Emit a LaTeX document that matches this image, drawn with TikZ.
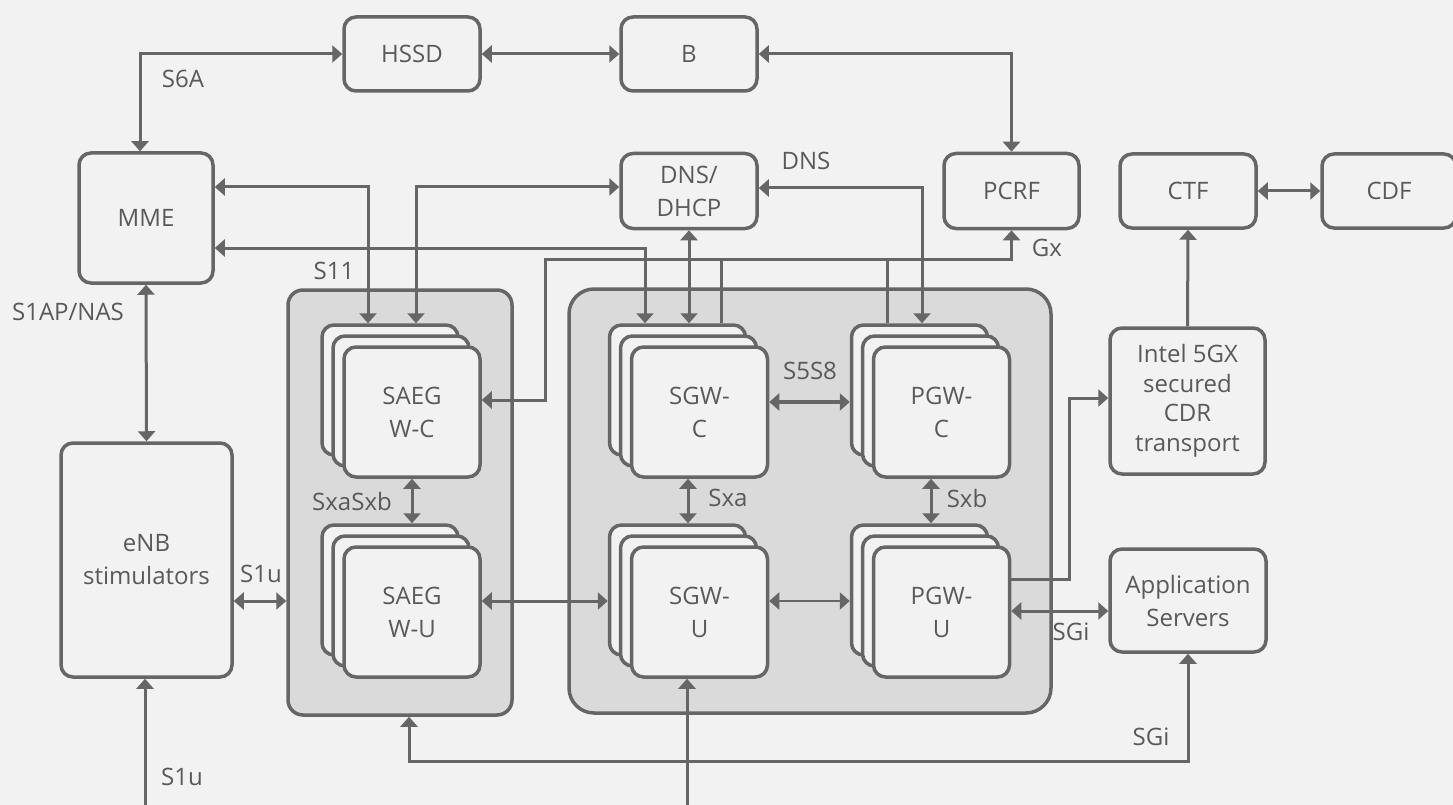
\documentclass[tikz,border=0pt]{standalone}
\usepackage{fontspec}
\setmainfont{Open Sans}
\usetikzlibrary{arrows.meta}
\definecolor{bg}{HTML}{F2F2F2}
\definecolor{ln}{HTML}{666666}
\definecolor{tx}{HTML}{595959}
\definecolor{cont}{HTML}{DADADA}
\newcommand{\stk}[4]{%
  \node[box, minimum width=136pt, minimum height=130pt] (#13) at (#2-22,#3-22) {};
  \node[box, minimum width=136pt, minimum height=130pt] (#12) at (#2-11,#3-11) {};
  \node[box, minimum width=136pt, minimum height=130pt] (#1) at (#2,#3) {#4};
}
\begin{document}
\begin{tikzpicture}[x=1pt,y=-1pt,
  box/.style={draw=ln, line width=3.5pt, fill=bg, rounded corners=12pt, text=tx, align=center, font=\fontsize{24}{33}\selectfont, inner sep=0pt},
  contbox/.style={draw=ln, line width=3.5pt, fill=cont, inner sep=0pt},
  lbl/.style={text=tx, font=\fontsize{24}{33}\selectfont, inner sep=0pt},
  conn/.style={draw=ln, line width=3pt},
  >={Triangle[length=10pt,width=17pt]}
]
\useasboundingbox (0,0) rectangle (1453,805);
\clip (0,0) rectangle (1453,805);
\fill[bg] (0,0) rectangle (1453,805);

% containers
\node[contbox, rounded corners=15pt, minimum width=224pt, minimum height=425pt] (contL) at (400,502.5) {};
\node[contbox, rounded corners=25pt, minimum width=482pt, minimum height=424pt] (contR) at (810,501) {};

% top boxes
\node[box, minimum width=136pt, minimum height=74pt] (hssd) at (412,54) {HSSD};
\node[box, minimum width=136pt, minimum height=74pt] (b) at (689,54) {B};
\node[box, minimum width=134pt, minimum height=130pt] (mme) at (146,218) {MME};
\node[box, minimum width=136pt, minimum height=75pt] (dns) at (689,191) {DNS/\\DHCP};
\node[box, minimum width=135pt, minimum height=75pt] (pcrf) at (1011.5,191) {PCRF};
\node[box, minimum width=136pt, minimum height=74pt] (ctf) at (1188,191) {CTF};
\node[box, minimum width=134pt, minimum height=74pt] (cdf) at (1389,191) {CDF};
\node[box, minimum width=155pt, minimum height=146pt, font=\fontsize{24}{29.5}\selectfont] (intel) at (1187.5,401) {Intel 5GX\\secured\\CDR\\transport};
\node[box, minimum width=156pt, minimum height=103pt] (app) at (1188,600.5) {Application\\Servers};
\node[box, minimum width=171pt, minimum height=234pt] (enb) at (146.5,560) {eNB\\stimulators};

% stacks
\stk{saegc}{412}{412}{SAEG\\W-C}
\stk{saegu}{412}{612}{SAEG\\W-U}
\stk{sgwc}{699.5}{412}{SGW-\\C}
\stk{sgwu}{699.5}{612}{SGW-\\U}
\stk{pgwc}{941.5}{412}{PGW-\\C}
\stk{pgwu}{941.5}{612}{PGW-\\U}

% helper coordinates
\coordinate (s6a) at (140,54);
\coordinate (m1) at (368,187);
\coordinate (m2) at (645,248);
\coordinate (d1) at (416,187);
\coordinate (d2) at (922,188);
\coordinate (g0) at (545,400);
\coordinate (g1) at (545,259);
\coordinate (g3) at (721,259);
\coordinate (g4) at (887,259);
\coordinate (s58) at (767,402);
\coordinate (u1) at (0,601);
\coordinate (p1) at (1069,579);
\coordinate (p2) at (1069,398);
\coordinate (a1) at (0,611);
\coordinate (bl) at (145,815);
\coordinate (bm) at (687,815);
\coordinate (k1) at (409,761);
\coordinate (k2) at (1188,761);
\coordinate (sx) at (412,0);
\coordinate (sa) at (688,0);
\coordinate (sb) at (931,0);

% connectors
\draw[conn,<->] (hssd.west) -- (s6a) -- (s6a |- mme.north);
\draw[conn,<->] (hssd.east) -- (b.west);
\draw[conn,<->] (b.east) -| (pcrf.north);
\draw[conn,<->] (ctf.east) -- (cdf.west);
\draw[conn,->] (intel.north) -- (ctf.south);
\draw[conn,<->] (mme.south) -- (enb.north);
\draw[conn,<->] (mme.east |- m1) -- (m1) -- (m1 |- saegc3.north);
\draw[conn,<->] (mme.east |- m2) -- (m2) -- (m2 |- sgwc3.north);
\draw[conn,<->] (dns.west |- d1) -- (d1) -- (d1 |- saegc3.north);
\draw[conn,<->] (dns.east |- d2) -- (d2) -- (d2 |- pgwc3.north);
\draw[conn,<->] (dns.south) -- (dns.south |- sgwc3.north);
\draw[conn,<->] (saegc.east |- g0) -| (g1) -| (pcrf.south);
\draw[conn] (g3) -- (g3 |- sgwc3.north);
\draw[conn] (g4) -- (g4 |- pgwc3.north);
\draw[conn,<->] (saegc.south -| sx) -- (sx |- saegu3.north);
\draw[conn,<->] (sgwc.south -| sa) -- (sa |- sgwu3.north);
\draw[conn,<->] (pgwc.south -| sb) -- (sb |- pgwu3.north);
\draw[conn,<->, line width=3.5pt] (sgwc.east |- s58) -- (pgwc3.west |- s58);
\draw[conn,<->] (saegu.east |- u1) -- (sgwu3.west |- u1);
\draw[conn,<->, line width=2.5pt] (sgwu.east |- u1) -- (pgwu3.west |- u1);
\draw[conn,<->] (enb.east |- u1) -- (contL.west |- u1);
\draw[conn,->] (pgwu.east |- p1) -| (p2) -- (intel.west |- p2);
\draw[conn,<->] (pgwu.east |- a1) -- (app.west |- a1);
\draw[conn,->] (bl) -- (bl |- enb.south);
\draw[conn,->] (bm) -- (bm |- sgwu.south);
\draw[conn,<->] (contL.south -| k1) |- (k2) -- (app.south);

% labels
\node[lbl] (l1) at (183,79) {S6A};
\node[lbl] (l2) at (806,161) {DNS};
\node[lbl] (l3) at (1047,248) {Gx};
\node[lbl] (l4) at (334,271) {S11};
\node[lbl] (l5) at (68,312) {S1AP/NAS};
\node[lbl] (l6) at (352,501) {SxaSxb};
\node[lbl] (l7) at (810,371) {S5S8};
\node[lbl] (l8) at (728,498) {Sxa};
\node[lbl] (l9) at (967,498) {Sxb};
\node[lbl] (l10) at (261,574) {S1u};
\node[lbl] (l11) at (1071,632) {SGi};
\node[lbl] (l12) at (1151,737) {SGi};
\node[lbl] (l13) at (182,777) {S1u};
\end{tikzpicture}
\end{document}
